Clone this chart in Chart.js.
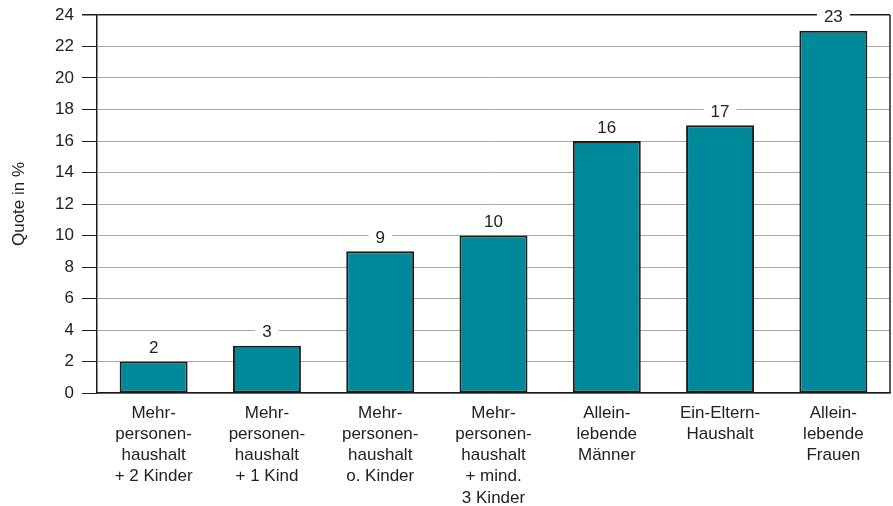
<!DOCTYPE html>
<html>
<head>
<meta charset="utf-8">
<script src="https://cdn.jsdelivr.net/npm/chart.js@4"></script>
<style>
  html, body { margin: 0; padding: 0; background: #fff; }
  #wrap { width: 893px; height: 506px; }
</style>
</head>
<body>
<div id="wrap"><canvas id="chart"></canvas></div>
<script>
const categories = [
    ['Mehr-', 'personen-', 'haushalt', '+ 2 Kinder'],
    ['Mehr-', 'personen-', 'haushalt', '+ 1 Kind'],
    ['Mehr-', 'personen-', 'haushalt', 'o. Kinder'],
    ['Mehr-', 'personen-', 'haushalt', '+ mind.', '3 Kinder'],
    ['Allein-', 'lebende', 'Männer'],
    ['Ein-Eltern-', 'Haushalt'],
    ['Allein-', 'lebende', 'Frauen']
];
const quote = [2, 3, 9, 10, 16, 17, 23];
const yMin = 0, yMax = 24, yStep = 2;
const yTitle = 'Quote in %';

const fontFamily = '"Liberation Sans", Arial, sans-serif';

// white boxed value labels above the bars
const valueLabels = {
    id: 'valueLabels',
    afterDatasetsDraw(chart) {
        const ctx = chart.ctx;
        const meta = chart.getDatasetMeta(0);
        ctx.save();
        ctx.font = '17px ' + fontFamily;
        ctx.textAlign = 'center';
        ctx.textBaseline = 'middle';
        meta.data.forEach((bar, i) => {
            const txt = String(quote[i]);
            const w = ctx.measureText(txt).width + 14;
            const y = bar.y - 14;
            ctx.fillStyle = '#fff';
            ctx.fillRect(bar.x - w / 2, y - 10, w, 20);
            ctx.fillStyle = '#222';
            ctx.fillText(txt, bar.x, y + 1);
        });
        ctx.restore();
    }
};

// right frame line
const frame = {
    id: 'frame',
    beforeDatasetsDraw(chart) {
        const a = chart.chartArea;
        const ctx = chart.ctx;
        ctx.save();
        ctx.strokeStyle = '#222';
        ctx.lineWidth = 1.5;
        ctx.beginPath();
        ctx.moveTo(a.right, a.top);
        ctx.lineTo(a.right, a.bottom);
        ctx.stroke();
        ctx.restore();
    }
};

new Chart(document.getElementById('chart'), {
    type: 'bar',
    data: {
        labels: categories,
        datasets: [{
            data: quote,
            backgroundColor: '#00899a',
            borderColor: '#1c1c1c',
            borderWidth: 2,
            borderSkipped: false,
            categoryPercentage: 0.6,
            barPercentage: 1.0
        }]
    },
    options: {
        responsive: true,
        maintainAspectRatio: false,
        animation: false,
        layout: { padding: { top: 15, right: 3, left: 0, bottom: 0 } },
        plugins: {
            legend: { display: false },
            tooltip: { enabled: false }
        },
        scales: {
            x: {
                grid: { display: false },
                border: { display: true, color: '#1c1c1c', width: 1.5 },
                ticks: {
                    color: '#222',
                    padding: 2,
                    maxRotation: 0,
                    autoSkip: false,
                    font: { family: fontFamily, size: 17, lineHeight: 1.24 }
                },
                afterFit(scale) { scale.height = 113; }
            },
            y: {
                min: yMin,
                max: yMax,
                ticks: {
                    stepSize: yStep,
                    color: '#222',
                    padding: 8,
                    font: { family: fontFamily, size: 17 }
                },
                grid: {
                    color: c => c.tick && c.tick.value === yMax ? '#1c1c1c' : '#a8a8a8',
                    lineWidth: c => c.tick && c.tick.value === yMax ? 1.5 : 1,
                    tickColor: '#1c1c1c',
                    tickLength: 15
                },
                border: { display: true, color: '#1c1c1c', width: 1.5 },
                title: {
                    display: true,
                    text: yTitle,
                    color: '#222',
                    padding: { top: 9, bottom: 0 },
                    font: { family: fontFamily, size: 17 }
                },
                afterFit(scale) {
                    scale.width = 97;
                    scale.paddingTop = 0;
                    scale.paddingBottom = 0;
                }
            }
        }
    },
    plugins: [frame, valueLabels]
});
</script>
</body>
</html>
